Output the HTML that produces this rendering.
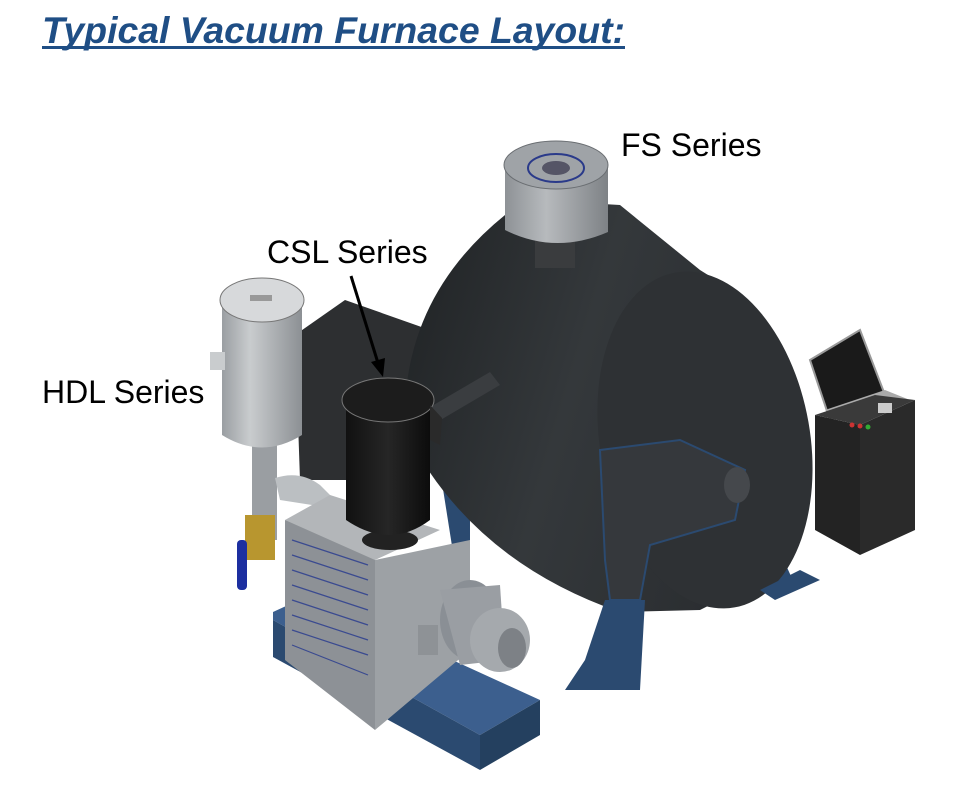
<!DOCTYPE html>
<html><head><meta charset="utf-8"><style>
html,body{margin:0;padding:0;background:#fff;width:976px;height:811px;overflow:hidden}
svg{display:block}
</style></head><body>
<svg width="976" height="811" viewBox="0 0 976 811" xmlns="http://www.w3.org/2000/svg" font-family="Liberation Sans, Arial, sans-serif">
<defs>
<linearGradient id="tank" x1="0" y1="0" x2="1" y2="0.3">
<stop offset="0" stop-color="#1f2224"/><stop offset="0.5" stop-color="#34383b"/><stop offset="1" stop-color="#2a2d30"/></linearGradient>
<linearGradient id="silver" x1="0" x2="1"><stop offset="0" stop-color="#9a9ea2"/><stop offset="0.35" stop-color="#c9ccce"/><stop offset="1" stop-color="#8c9094"/></linearGradient>
<linearGradient id="black" x1="0" x2="1"><stop offset="0" stop-color="#111"/><stop offset="0.5" stop-color="#262626"/><stop offset="1" stop-color="#0c0c0c"/></linearGradient>
<linearGradient id="fs" x1="0" x2="1"><stop offset="0" stop-color="#8e9296"/><stop offset="0.4" stop-color="#b7babd"/><stop offset="1" stop-color="#7e8286"/></linearGradient>
</defs>

<!-- Title -->
<text x="42" y="43" font-size="37" font-weight="bold" font-style="italic" fill="#1f4e85" textLength="583" lengthAdjust="spacingAndGlyphs">Typical Vacuum Furnace Layout:</text>
<rect x="42" y="46" width="583" height="3" fill="#1f4e85"/>

<!-- back box -->
<polygon points="295,335 345,300 430,330 420,480 300,480" fill="#2d2f31"/>

<!-- legs back -->
<polygon points="440,470 470,460 470,560 455,565" fill="#2b4a70"/>
<polygon points="745,540 770,530 795,585 770,590" fill="#2b4a70"/>

<!-- tank body -->
<path d="M505,215 Q560,200 620,205 L700,270 Q800,330 810,440 Q805,560 700,610 L620,612 Q470,560 405,430 Q400,300 505,215 Z" fill="url(#tank)"/>
<ellipse cx="705" cy="440" rx="105" ry="170" transform="rotate(-10 705 440)" fill="#2e3134"/>
<!-- front bracket (dark) and legs -->
<polygon points="600,450 680,440 745,470 735,520 650,545 640,600 610,600 605,560" fill="#35383c" stroke="#2b4a70" stroke-width="2"/>
<polygon points="605,600 645,600 640,690 565,690 585,660" fill="#2b4a70"/>
<ellipse cx="737" cy="485" rx="13" ry="18" fill="#45484c"/>
<polygon points="760,590 800,570 820,580 775,600" fill="#2b4a70"/>

<!-- FS filter -->
<rect x="535" y="240" width="40" height="28" fill="#3a3c3e"/>
<path d="M505,165 L505,230 Q555,255 608,232 L608,165 Z" fill="url(#fs)"/>
<ellipse cx="556" cy="165" rx="52" ry="24" fill="#9fa3a7" stroke="#6a6e72"/>
<ellipse cx="556" cy="168" rx="28" ry="14" fill="none" stroke="#2a3a8a" stroke-width="2"/>
<ellipse cx="556" cy="168" rx="14" ry="7" fill="#556"/>

<!-- monitor & cabinet -->
<polygon points="810,360 860,330 885,395 830,420" fill="#1a1a1a" stroke="#999" stroke-width="2"/>
<polygon points="825,410 885,390 910,400 855,425" fill="#aaa"/>
<polygon points="815,415 860,425 860,555 815,530" fill="#232323"/>
<polygon points="860,425 915,400 915,530 860,555" fill="#2a2a2a"/>
<polygon points="815,415 860,425 915,400 875,395" fill="#3a3a3a"/>
<rect x="878" y="403" width="14" height="10" fill="#ccc"/>
<circle cx="852" cy="425" r="2.5" fill="#c33"/><circle cx="860" cy="426" r="2.5" fill="#c33"/><circle cx="868" cy="427" r="2.5" fill="#3a3"/>

<!-- pipe from CSL to tank -->
<polygon points="425,410 490,372 500,385 432,425" fill="#3a3d40"/>

<!-- HDL filter -->
<rect x="252" y="440" width="25" height="100" fill="#9a9ea2"/>
<path d="M275,478 Q300,470 320,485 L335,500 L325,525 L312,505 L280,500 Z" fill="#bbbfc2"/>
<rect x="245" y="515" width="30" height="45" fill="#b8962f"/>
<rect x="237" y="540" width="10" height="50" rx="4" fill="#1c2fa0"/>
<path d="M222,300 L222,435 Q262,460 302,435 L302,300 Z" fill="url(#silver)"/>
<ellipse cx="262" cy="300" rx="42" ry="22" fill="#d7d9db" stroke="#777"/>
<rect x="210" y="352" width="15" height="18" fill="#c9ccce"/>
<rect x="250" y="295" width="22" height="6" fill="#999"/>

<!-- base -->
<polygon points="273,612 310,595 540,700 480,735 273,620" fill="#3c5f8e"/>
<polygon points="273,620 480,735 480,770 273,657" fill="#2b4a70"/>
<polygon points="480,735 540,700 540,735 480,770" fill="#24405f"/>

<!-- pump body -->
<polygon points="285,520 375,550 375,730 285,660" fill="#8d9196"/>
<g stroke="#3a4a90" stroke-width="1.2">
<line x1="292" y1="540" x2="368" y2="565"/><line x1="292" y1="555" x2="368" y2="580"/>
<line x1="292" y1="570" x2="368" y2="595"/><line x1="292" y1="585" x2="368" y2="610"/>
<line x1="292" y1="600" x2="368" y2="625"/><line x1="292" y1="615" x2="368" y2="640"/>
<line x1="292" y1="630" x2="368" y2="655"/><line x1="292" y1="645" x2="368" y2="675"/>
</g>
<polygon points="375,560 470,540 470,650 375,730" fill="#9da1a5"/>
<polygon points="285,520 330,495 440,530 375,560" fill="#b3b6b9"/>
<!-- motor -->
<ellipse cx="470" cy="620" rx="30" ry="40" fill="#8a8f95"/>
<polygon points="440,590 500,585 505,660 460,665" fill="#9a9ea3"/>
<ellipse cx="500" cy="640" rx="30" ry="32" fill="#a5a9ad"/>
<ellipse cx="512" cy="648" rx="14" ry="20" fill="#7d8186"/>
<rect x="418" y="625" width="20" height="30" fill="#8e9296"/>

<!-- CSL filter -->
<ellipse cx="390" cy="540" rx="28" ry="10" fill="#222"/>
<path d="M346,405 L346,520 Q390,550 430,520 L430,405 Z" fill="url(#black)"/>
<ellipse cx="388" cy="400" rx="46" ry="22" fill="#1c1c1c" stroke="#777"/>
<polygon points="430,405 442,418 440,445 430,440" fill="#2a2a2a"/>

<!-- arrow -->
<line x1="351" y1="276" x2="378" y2="363" stroke="#000" stroke-width="3"/>
<polygon points="383,377 371,362 385,358" fill="#000"/>

<!-- labels -->
<text x="621" y="156" font-size="32" fill="#000">FS Series</text>
<text x="267" y="263" font-size="32" fill="#000">CSL Series</text>
<text x="42" y="403" font-size="32" fill="#000">HDL Series</text>
</svg>
</body></html>
